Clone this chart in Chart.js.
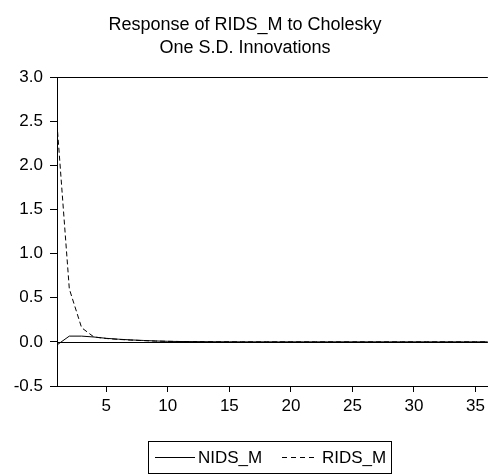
<!DOCTYPE html>
<html>
<head>
<meta charset="utf-8">
<script src="https://cdn.jsdelivr.net/npm/chart.js@4.4.1/dist/chart.umd.min.js"></script>
<style>
  html, body { margin: 0; padding: 0; background: #ffffff; }
  #wrap { width: 489px; height: 475px; position: relative; }
</style>
</head>
<body>
<div id="wrap"><canvas id="c" width="489" height="475"></canvas></div>
<script>
// Impulse responses of RIDS_M, periods 1..36
const periods = Array.from({ length: 36 }, (_, i) => i + 1);
const nidsM = [-0.035, 0.065, 0.065, 0.055, 0.040, 0.030, 0.022, 0.016, 0.010, 0.006,
               0.004, 0.003, 0.002, 0.001, 0.001, 0.000, 0.000, 0.000, 0.000, 0.000,
               0.000, 0.000, 0.000, 0.000, 0.000, 0.000, 0.000, 0.000, 0.000, 0.000,
               0.000, 0.000, 0.000, 0.000, 0.000, 0.000];
const ridsM = [2.470, 0.600, 0.160, 0.055, 0.038, 0.028, 0.020, 0.014, 0.009, 0.006,
               0.004, 0.003, 0.002, 0.001, 0.001, 0.000, 0.000, 0.000, 0.000, 0.000,
               0.000, 0.000, 0.000, 0.000, 0.000, 0.000, 0.000, 0.000, 0.000, 0.000,
               0.000, 0.000, 0.000, 0.000, 0.000, 0.000];
const xTicks = [5, 10, 15, 20, 25, 30, 35];
const titleLines = ['Response of RIDS_M to Cholesky', 'One S.D. Innovations'];

const FONT = '"Liberation Sans", Arial, sans-serif';

// Title, top frame line, zero line and boxed legend
const decor = {
  id: 'decor',
  afterDraw(chart) {
    const ctx = chart.ctx;
    const a = chart.chartArea;
    const y = chart.scales.y;
    ctx.save();
    ctx.strokeStyle = '#000';
    ctx.lineWidth = 1;
    ctx.setLineDash([]);
    // top frame
    ctx.beginPath();
    ctx.moveTo(a.left, Math.round(a.top) + 0.5);
    ctx.lineTo(a.right, Math.round(a.top) + 0.5);
    ctx.stroke();
    // zero line
    const y0 = Math.round(y.getPixelForValue(0)) + 0.5;
    ctx.beginPath();
    ctx.moveTo(a.left, y0);
    ctx.lineTo(a.right, y0);
    ctx.stroke();

    // title
    ctx.fillStyle = '#000';
    ctx.font = '18px ' + FONT;
    ctx.textAlign = 'center';
    ctx.textBaseline = 'alphabetic';
    ctx.fillText(titleLines[0], 245, 30);
    ctx.fillText(titleLines[1], 245, 53);

    // legend
    const ds = chart.data.datasets;
    ctx.font = '17px ' + FONT;
    ctx.strokeRect(148.5, 441.5, 243, 32);
    ctx.textAlign = 'left';
    ctx.textBaseline = 'middle';
    const ly = 457.5;
    ctx.beginPath();
    ctx.moveTo(155, ly); ctx.lineTo(195, ly);
    ctx.stroke();
    ctx.fillText(ds[0].label, 198, 458);
    ctx.setLineDash([5, 4]);
    ctx.beginPath();
    ctx.moveTo(282, ly); ctx.lineTo(317, ly);
    ctx.stroke();
    ctx.setLineDash([]);
    ctx.fillText(ds[1].label, 322, 458);
    ctx.restore();
  }
};

new Chart(document.getElementById('c'), {
  type: 'line',
  data: {
    datasets: [
      {
        label: 'NIDS_M',
        data: periods.map((p, i) => ({ x: p, y: nidsM[i] })),
        borderColor: '#000',
        borderWidth: 1,
        pointRadius: 0,
        tension: 0,
        fill: false
      },
      {
        label: 'RIDS_M',
        data: periods.map((p, i) => ({ x: p, y: ridsM[i] })),
        borderColor: '#000',
        borderWidth: 1,
        borderDash: [5, 3],
        pointRadius: 0,
        tension: 0,
        fill: false
      }
    ]
  },
  options: {
    responsive: false,
    animation: false,
    events: [],
    layout: { padding: { top: 77, right: 0, bottom: 0, left: 0 } },
    plugins: {
      legend: { display: false },
      title: { display: false },
      tooltip: { enabled: false }
    },
    scales: {
      x: {
        type: 'linear',
        min: 1,
        max: 36,
        afterBuildTicks(scale) { scale.ticks = xTicks.map(v => ({ value: v })); },
        afterFit(scale) { scale.height = 89; },
        grid: { display: true, drawOnChartArea: false, drawTicks: true, tickLength: 6, color: '#000' },
        border: { display: true, color: '#000', width: 1 },
        ticks: { color: '#000', font: { family: FONT, size: 17 }, padding: 4, maxRotation: 0, autoSkip: false }
      },
      y: {
        type: 'linear',
        min: -0.5,
        max: 3.0,
        afterFit(scale) { scale.width = 57; },
        grid: { display: true, drawOnChartArea: false, drawTicks: true, tickLength: 7, color: '#000' },
        border: { display: true, color: '#000', width: 1 },
        ticks: { stepSize: 0.5, color: '#000', font: { family: FONT, size: 17 }, padding: 7,
                 callback: v => v.toFixed(1) }
      }
    }
  },
  plugins: [decor]
});
</script>
</body>
</html>
